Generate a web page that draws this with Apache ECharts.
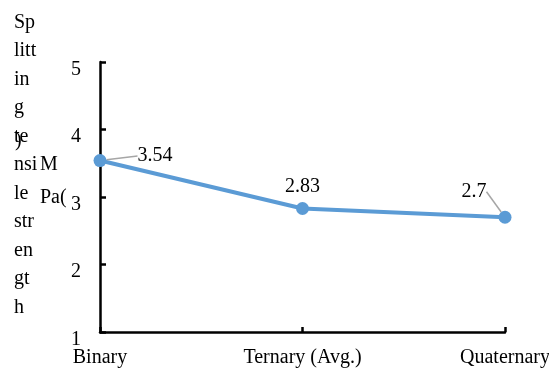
<!DOCTYPE html>
<html>
<head>
<meta charset="utf-8">
<script src="https://cdn.jsdelivr.net/npm/echarts@6/dist/echarts.min.js"></script>
<style>
  html, body { margin: 0; padding: 0; background: #fff; }
  #chart { width: 549px; height: 372px; }
</style>
</head>
<body>
<div id="chart"></div>
<script>
// Splitting tensile strength by mix type
const categories = ['Binary', 'Ternary (Avg.)', 'Quaternary'];
const strength = [3.54, 2.83, 2.7];
const yTicks = [1, 2, 3, 4, 5];

// Axis title, broken into short stacked fragments
const titleLines = ['Sp', 'litt', 'in', 'g', 'te', 'nsi', 'le', 'str', 'en', 'gt', 'h'];

const FONT = '"Liberation Serif", "Times New Roman", serif';
const FS = 20;

// Offsets applied to the value labels (per point), relative to the default "top" spot
const labelShift = [
  { dx: 55, dy: 17, line: true },
  { dx: 0, dy: 0, line: false },
  { dx: -31, dy: -4, line: true }
];

const chart = echarts.init(document.getElementById('chart'), null, { renderer: 'canvas' });

const LH = 28.5;
const T0 = 8;

chart.setOption({
  animation: false,
  backgroundColor: '#ffffff',
  grid: { left: 100, right: 44, top: 62, bottom: 40, containLabel: false, outerBoundsMode: 'none' },
  xAxis: {
    type: 'category',
    data: categories,
    boundaryGap: false,
    axisLine: { show: true, lineStyle: { color: '#000', width: 2.5 } },
    axisTick: { show: true, inside: true, length: 5, alignWithLabel: true, lineStyle: { color: '#000', width: 2.5 } },
    axisLabel: { color: '#000', fontFamily: FONT, fontSize: FS, margin: 16, interval: 0 },
    splitLine: { show: false }
  },
  yAxis: {
    type: 'value',
    min: yTicks[0],
    max: yTicks[yTicks.length - 1],
    interval: 1,
    axisLine: { show: true, onZero: false, lineStyle: { color: '#000', width: 2.5 } },
    axisTick: { show: true, inside: true, length: 6, lineStyle: { color: '#000', width: 2.5 } },
    axisLabel: { color: '#000', fontFamily: FONT, fontSize: FS, margin: 19, verticalAlign: 'top', lineHeight: 15 },
    splitLine: { show: false }
  },
  series: [{
    type: 'line',
    data: strength.map((v, i) => ({
      value: v,
      labelLine: { show: labelShift[i].line }
    })),
    symbol: 'circle',
    symbolSize: 13,
    lineStyle: { color: '#5B9BD5', width: 4 },
    itemStyle: { color: '#5B9BD5' },
    label: {
      show: true,
      position: 'top',
      distance: 5,
      color: '#000',
      fontFamily: FONT,
      fontSize: FS,
      formatter: p => String(p.value)
    },
    labelLine: { show: true, lineStyle: { color: '#A6A6A6', width: 1.5 } },
    labelLayout: p => ({ dx: labelShift[p.dataIndex].dx, dy: labelShift[p.dataIndex].dy })
  }],
  graphic: [
    {
      type: 'text',
      left: 14,
      top: T0,
      silent: true,
      style: {
        text: titleLines.join('\n'),
        fill: '#000',
        font: FS + 'px ' + FONT,
        lineHeight: LH
      }
    },
    { type: 'text', left: 15, top: T0 + 4 * LH + 4, silent: true,
      style: { text: ')', fill: '#000', font: FS + 'px ' + FONT, lineHeight: LH } },
    { type: 'text', left: 40, top: T0 + 5 * LH, silent: true,
      style: { text: 'M', fill: '#000', font: FS + 'px ' + FONT, lineHeight: LH } },
    { type: 'text', left: 40, top: T0 + 6 * LH + 4, silent: true,
      style: { text: 'Pa(', fill: '#000', font: FS + 'px ' + FONT, lineHeight: LH } }
  ]
});
</script>
</body>
</html>
